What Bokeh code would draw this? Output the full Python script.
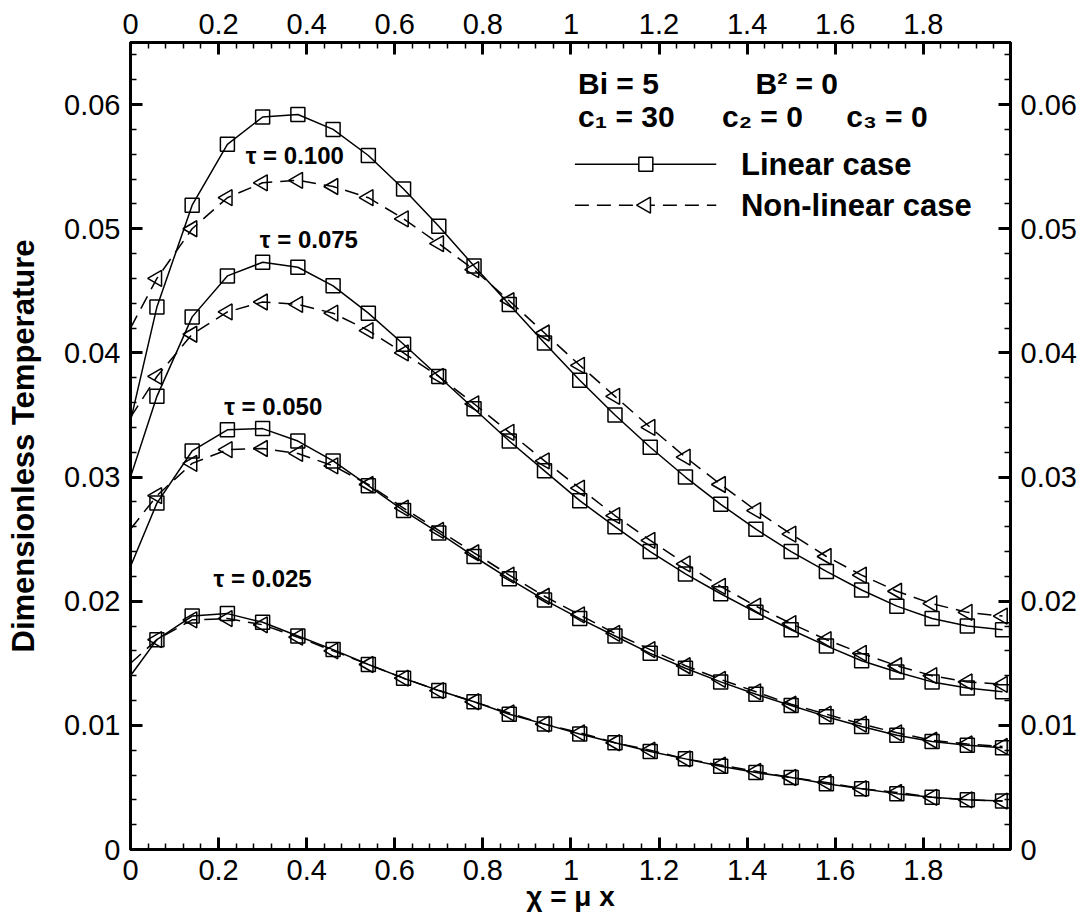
import math
from bokeh.plotting import figure
from bokeh.models import LinearAxis, FixedTicker, CustomJSTickFormatter, Label, Range1d
from bokeh.embed import file_html
from bokeh.resources import INLINE

# ---------------- data ----------------
x_marks = [0.06, 0.14, 0.22, 0.30, 0.38, 0.46, 0.54, 0.62, 0.70, 0.78, 0.86, 0.94, 1.02,
           1.10, 1.18, 1.26, 1.34, 1.42, 1.50, 1.58, 1.66, 1.74, 1.82, 1.90, 1.98]
x_start = 0.0

lin_100 = [0.0437, 0.0519, 0.0568, 0.0590, 0.0592, 0.0580, 0.0559, 0.0532, 0.0502, 0.0470, 0.0439, 0.0408, 0.0378,
           0.0350, 0.0324, 0.0300, 0.0278, 0.0258, 0.0240, 0.0224, 0.0209, 0.0196, 0.0186, 0.0180, 0.0177]
non_100 = [0.0460, 0.0500, 0.0525, 0.0537, 0.0539, 0.0534, 0.0525, 0.0508, 0.0488, 0.0467, 0.0442, 0.0416, 0.0390,
           0.0365, 0.0340, 0.0316, 0.0294, 0.0273, 0.0254, 0.0236, 0.0221, 0.0208, 0.0198, 0.0191, 0.0188]
lin_075 = [0.0365, 0.0429, 0.0462, 0.0473, 0.0469, 0.0454, 0.0432, 0.0407, 0.0381, 0.0355, 0.0329, 0.0305, 0.0281,
           0.0260, 0.0240, 0.0222, 0.0206, 0.0191, 0.0177, 0.0164, 0.0152, 0.0143, 0.0135, 0.0130, 0.0127]
non_075 = [0.0381, 0.0415, 0.0433, 0.0441, 0.0439, 0.0432, 0.0418, 0.0400, 0.0381, 0.0359, 0.0336, 0.0313, 0.0291,
           0.0269, 0.0249, 0.0230, 0.0212, 0.0196, 0.0182, 0.0169, 0.0158, 0.0148, 0.0140, 0.0135, 0.0133]
lin_050 = [0.0279, 0.0321, 0.0338, 0.0339, 0.0329, 0.0313, 0.0293, 0.0273, 0.0255, 0.0236, 0.0218, 0.0201, 0.0186,
           0.0172, 0.0158, 0.0146, 0.0135, 0.0125, 0.0116, 0.0107, 0.0099, 0.0092, 0.0087, 0.0084, 0.0082]
non_050 = [0.0285, 0.0311, 0.0322, 0.0323, 0.0319, 0.0309, 0.0294, 0.0275, 0.0257, 0.0239, 0.0221, 0.0204, 0.0189,
           0.0174, 0.0161, 0.0148, 0.0137, 0.0127, 0.0117, 0.0109, 0.0101, 0.0094, 0.0088, 0.0085, 0.0083]
lin_025 = [0.0169, 0.0188, 0.0190, 0.0183, 0.0172, 0.0161, 0.0149, 0.0138, 0.0128, 0.0119, 0.0109, 0.0101, 0.0093,
           0.0086, 0.0079, 0.0073, 0.0067, 0.0062, 0.0058, 0.0053, 0.0049, 0.0045, 0.0042, 0.0040, 0.0039]
non_025 = [0.0169, 0.0185, 0.0186, 0.0181, 0.0171, 0.0160, 0.0149, 0.0138, 0.0128, 0.0119, 0.0110, 0.0101, 0.0094,
           0.0086, 0.0080, 0.0073, 0.0068, 0.0063, 0.0058, 0.0054, 0.0049, 0.0046, 0.0042, 0.0040, 0.0039]

# curve values at x = 0 (left frame edge)
lin_start = [0.0345, 0.0300, 0.0228, 0.0140]
non_start = [0.0420, 0.0348, 0.0258, 0.0150]

tau_labels = ["\u03c4 = 0.100", "\u03c4 = 0.075", "\u03c4 = 0.050", "\u03c4 = 0.025"]

x_ticks = [0, 0.2, 0.4, 0.6, 0.8, 1.0, 1.2, 1.4, 1.6, 1.8]
y_ticks = [0, 0.01, 0.02, 0.03, 0.04, 0.05, 0.06]

params_row1 = ["Bi = 5", "B\u00b2 = 0"]
params_row2 = ["c\u2081 = 30", "c\u2082 = 0", "c\u2083 = 0"]
legend_names = ["Linear case", "Non-linear case"]
x_title = "\u03c7 = \u03bc x"
y_title = "Dimensionless Temperature"

# ---------------- figure ----------------
FONT = "Liberation Sans"
W, H = 1086, 921
p = figure(width=W, height=H, output_backend="svg", toolbar_location=None,
           x_range=Range1d(0, 1.998), y_range=Range1d(0, 0.065),
           min_border_left=130, min_border_right=W - 1010, min_border_top=42,
           min_border_bottom=H - 849,
           background_fill_color="white", border_fill_color="white")
p.grid.visible = False
p.outline_line_color = "black"
p.outline_line_width = 3

p.add_layout(LinearAxis(), "above")
p.add_layout(LinearAxis(), "right")

x_minor = [round(0.04 * i, 2) for i in range(50) if i % 5 != 0]
y_minor = [round(0.002 * i, 3) for i in range(33) if i % 5 != 0]
fmt = CustomJSTickFormatter(code="return String(Number(tick.toFixed(4)));")

for ax in p.xaxis:
    ax.ticker = FixedTicker(ticks=x_ticks, minor_ticks=x_minor)
for ax in p.yaxis:
    ax.ticker = FixedTicker(ticks=y_ticks, minor_ticks=y_minor)
for ax in list(p.xaxis) + list(p.yaxis):
    ax.formatter = fmt
    ax.axis_line_width = 3
    ax.axis_line_color = "black"
    ax.major_tick_line_width = 3
    ax.major_tick_line_color = "black"
    ax.minor_tick_line_width = 1.5
    ax.minor_tick_line_color = "black"
    ax.major_tick_in = 12
    ax.major_tick_out = 0
    ax.minor_tick_in = 6
    ax.minor_tick_out = 0
    ax.major_label_text_font = FONT
    ax.major_label_text_font_size = "29px"
    ax.major_label_text_color = "black"
    ax.major_label_standoff = 10
p.above[0].major_label_standoff = 9
p.below[0].major_label_standoff = 10

bottom_axis = p.below[0]
bottom_axis.axis_label = x_title
bottom_axis.axis_label_standoff = -2
bottom_axis.axis_label_text_font = FONT
bottom_axis.axis_label_text_font_style = "bold"
bottom_axis.axis_label_text_font_size = "28px"
bottom_axis.axis_label_text_color = "black"

left_axis = p.left[0]
left_axis.axis_label = y_title
left_axis.axis_label_standoff = 20
left_axis.axis_label_text_font = FONT
left_axis.axis_label_text_font_style = "bold"
left_axis.axis_label_text_font_size = "31px"
left_axis.axis_label_text_color = "black"

# ---------------- curves ----------------
lin_sets = [lin_100, lin_075, lin_050, lin_025]
non_sets = [non_100, non_075, non_050, non_025]
for ys, y0 in zip(lin_sets, lin_start):
    p.line([x_start] + x_marks, [y0] + ys, line_color="black", line_width=1.5)
for ys, y0 in zip(non_sets, non_start):
    p.line([x_start] + x_marks, [y0] + ys, line_color="black", line_width=1.5, line_dash="14 8")
for ys in lin_sets:
    p.scatter(x_marks, ys, marker="square", size=14, fill_alpha=0,
              line_color="black", line_width=1.5)
for ys in non_sets:
    p.scatter(x_marks, ys, marker="triangle", angle=math.pi / 2, size=16, fill_alpha=0,
              line_color="black", line_width=1.5)

# ---------------- tau labels ----------------
tau_pos = [(0.373, 0.0559), (0.405, 0.0491), (0.324, 0.0357), (0.300, 0.0218)]
for txt, (tx, ty) in zip(tau_labels, tau_pos):
    p.add_layout(Label(x=tx, y=ty, text=txt, text_align="center", text_baseline="middle",
                       text_font=FONT, text_font_style="bold", text_font_size="24px",
                       text_color="black"))

# ---------------- parameter block ----------------
for txt, tx in zip(params_row1, [1.016, 1.419]):
    p.add_layout(Label(x=tx, y=0.0617, text=txt, text_align="left", text_baseline="middle",
                       text_font=FONT, text_font_style="bold", text_font_size="30px",
                       text_color="black"))
for txt, tx in zip(params_row2, [1.016, 1.343, 1.625]):
    p.add_layout(Label(x=tx, y=0.0590, text=txt, text_align="left", text_baseline="middle",
                       text_font=FONT, text_font_style="bold", text_font_size="30px",
                       text_color="black"))

# ---------------- legend ----------------
leg_y = [0.0552, 0.0519]
p.line([1.009, 1.330], [leg_y[0], leg_y[0]], line_color="black", line_width=1.5)
p.scatter([1.17], [leg_y[0]], marker="square", size=14, fill_color="white",
          line_color="black", line_width=1.5)
p.line([1.009, 1.330], [leg_y[1], leg_y[1]], line_color="black", line_width=1.5, line_dash="14 8")
p.scatter([1.17], [leg_y[1]], marker="triangle", angle=math.pi / 2, size=16, fill_color="white",
          line_color="black", line_width=1.5)
for txt, ly in zip(legend_names, leg_y):
    p.add_layout(Label(x=1.386, y=ly, text=txt, text_align="left", text_baseline="middle",
                       text_font=FONT, text_font_style="bold", text_font_size="31px",
                       text_color="black"))

open("out.html", "w").write(file_html(p, INLINE))
